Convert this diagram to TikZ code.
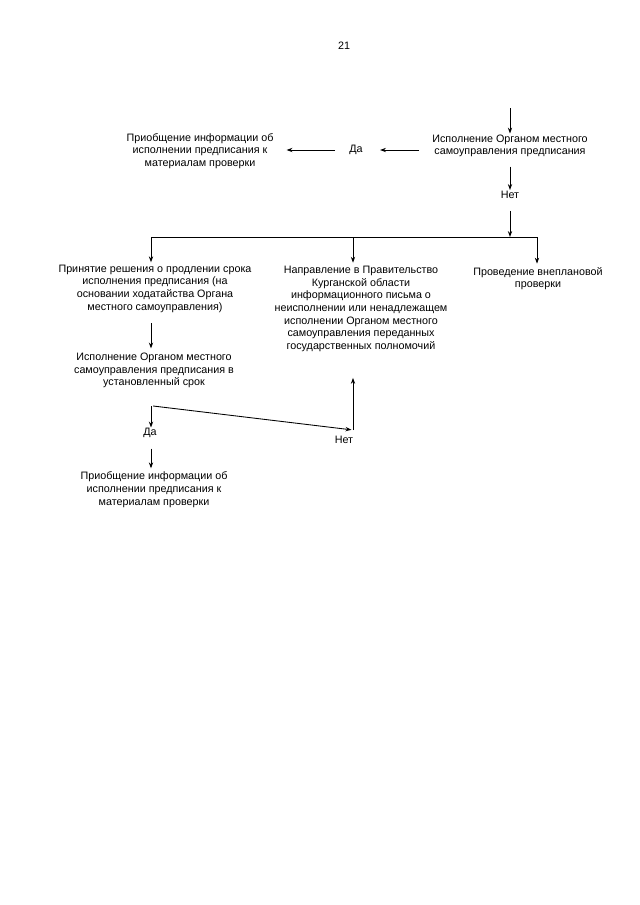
\documentclass[tikz,border=0pt]{standalone}
\usepackage{fontspec}
\setmainfont{Liberation Sans}
\usetikzlibrary{arrows.meta,calc}
\begin{document}
\begin{tikzpicture}[x=0.93pt,y=-0.93pt,
  txt/.style={inner sep=0pt,align=center,font=\fontsize{10}{11.8}\selectfont},
  arr/.style={line width=0.8pt,-{Stealth[length=5.5pt,width=4pt]}},
  ln/.style={line width=0.8pt}]
\useasboundingbox[fill=white] (0,0) rectangle (640,905);
% nodes
\node[txt] (page) at (344,46) {21};
\node[txt] (n1) at (510,146) {Исполнение Органом местного\\самоуправления предписания};
\node[txt] (yes1) at (356,150) {Да};
\node[txt] (n2) at (200,151) {Приобщение информации об\\исполнении предписания к\\материалам проверки};
\node[txt] (no1) at (510,195) {Нет};
\node[txt] (n3) at (155,288.5) {Принятие решения о продлении срока\\исполнения предписания (на\\основании ходатайства Органа\\местного самоуправления)};
\node[txt] (n4) at (361,309) {Направление в Правительство\\Курганской области\\информационного письма о\\неисполнении или ненадлежащем\\исполнении Органом местного\\самоуправления переданных\\государственных полномочий};
\node[txt] (n5) at (538,278.5) {Проведение внеплановой\\проверки};
\node[txt] (n6) at (154,370.5) {Исполнение Органом местного\\самоуправления предписания в\\установленный срок};
\node[txt] (yes2) at (150,433) {Да};
\node[txt] (no2) at (344,440) {Нет};
\node[txt] (n7) at (154,489.5) {Приобщение информации об\\исполнении предписания к\\материалам проверки};
% coordinates
\coordinate (top1) at (510,108);
\coordinate (j) at (510,237);
\coordinate (bl) at (151,237);
\coordinate (bm) at (353,237);
\coordinate (br) at (537,237);
\coordinate (s) at (151,406);
\coordinate (c) at (353,430);
% connectors
\draw[arr,shorten >=1pt] (top1) -- (n1.north -| top1);
\draw[arr,shorten <=12pt,shorten >=16pt] (n1.west |- yes1.east) -- (yes1.east);
\draw[arr,shorten <=13pt,shorten >=12pt] (yes1.west) -- (n2.east |- yes1.west);
\draw[arr,shorten <=8.5pt,shorten >=1pt] (n1.south -| no1) -- (no1.north);
\draw[arr,shorten <=11pt] (no1.south) -- (j);
\draw[ln] (bl) -- (br);
\draw[arr,shorten >=2pt] (bl) -- (bl |- n3.north);
\draw[arr,shorten >=3pt] (bm) -- (bm |- n4.north);
\draw[arr,shorten >=3pt] (br) -- (br |- n5.north);
\draw[arr,shorten <=10pt,shorten >=4pt] (bl |- n3.south) -- (bl |- n6.north);
\draw[arr,shorten >=0.5pt] (s) -- (yes2.north -| s);
\draw[arr,shorten >=1.5pt] ([xshift=2pt]s) -- (c);
\draw[arr,shorten >=24pt] (c) -- (c |- n4.south);
\draw[arr,shorten <=10pt,shorten >=3pt] (yes2.south -| s) -- (n7.north -| s);
\end{tikzpicture}
\end{document}
